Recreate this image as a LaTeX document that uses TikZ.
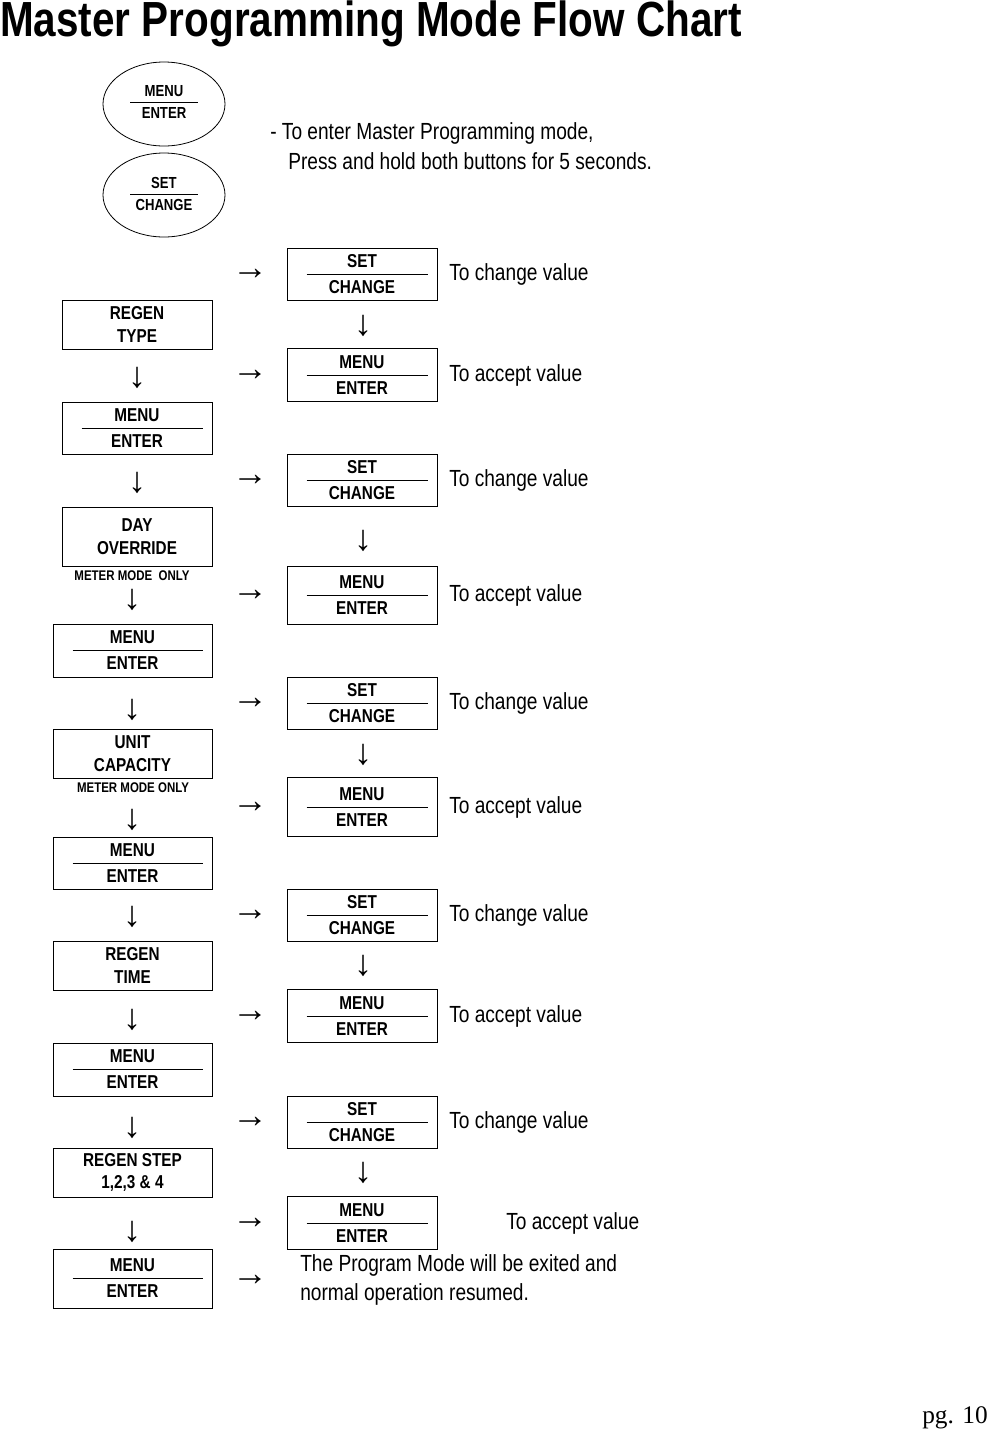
\documentclass[tikz,border=0pt]{standalone}
\usepackage{fontspec}
\setmainfont[FakeStretch=0.82]{Liberation Sans}
\newfontfamily\serifpg{Liberation Serif}
\usetikzlibrary{shapes.geometric}
\tikzset{
 box/.style={draw,line width=0.6pt,inner sep=0pt},
 lbl/.style={font=\bfseries\fontsize{14}{15}\selectfont,inner sep=0pt},
 info/.style={font=\fontsize{17.5}{20}\selectfont,anchor=west,inner sep=0pt},
 arr/.style={font=\serifpg\fontsize{27}{27}\selectfont,inner sep=0pt},
 small/.style={font=\bfseries\fontsize{10.5}{11}\selectfont,inner sep=0pt},
 ell/.style={draw,ellipse,line width=0.6pt,minimum width=91.5pt,minimum height=63pt,inner sep=0pt}
}
% name, cx, cy, w, h, top, bottom
\newcommand\mybox[7]{%
 \node[box,minimum width=#4*0.75pt,minimum height=#5*0.75pt] (#1) at (#2,#3) {};
 \draw[line width=0.5pt] ([xshift=15pt]#1.west) -- ([xshift=-7pt]#1.east);
 \node[lbl] at (#2,#3-13) {#6};
 \node[lbl] at (#2,#3+13) {#7};}
\newcommand\txbox[6]{%
 \node[box,lbl,align=center,minimum width=#4*0.75pt,minimum height=#5*0.75pt] (#1) at (#2,#3) {#6};}
\begin{document}
\begin{tikzpicture}[x=0.75pt,y=-0.75pt]
\useasboundingbox (0,0) rectangle (988,1431);
\node[anchor=north west,inner sep=0pt,font=\bfseries\fontsize{37}{38}\selectfont] (title) at (0,0) {Master Programming Mode Flow Chart};
% ellipses
\node[ell] (e1) at (164,104) {};
\draw[line width=0.5pt] (130,102) -- (198,102);
\node[lbl,font=\bfseries\fontsize{12}{12}\selectfont] at (164,91) {MENU};
\node[lbl,font=\bfseries\fontsize{12}{12}\selectfont] at (164,113) {ENTER};
\node[ell] (e2) at (164,195) {};
\draw[line width=0.5pt] (130,194) -- (198,194);
\node[lbl,font=\bfseries\fontsize{12}{12}\selectfont] at (164,183) {SET};
\node[lbl,font=\bfseries\fontsize{12}{12}\selectfont] at (164,205) {CHANGE};
\node[info] (i1) at (270,133) {- To enter Master Programming mode,};
\node[info] (i2) at (288,161) {Press and hold both buttons for 5 seconds.};
% right column
\mybox{r1}{362}{274}{150}{52}{SET}{CHANGE}
\mybox{r2}{362}{375}{150}{53}{MENU}{ENTER}
\mybox{r3}{362}{480}{150}{52}{SET}{CHANGE}
\mybox{r4}{362}{595}{150}{58}{MENU}{ENTER}
\mybox{r5}{362}{703}{150}{52}{SET}{CHANGE}
\mybox{r6}{362}{807}{150}{59}{MENU}{ENTER}
\mybox{r7}{362}{915}{150}{52}{SET}{CHANGE}
\mybox{r8}{362}{1016}{150}{53}{MENU}{ENTER}
\mybox{r9}{362}{1122}{150}{52}{SET}{CHANGE}
\mybox{r10}{362}{1223}{150}{53}{MENU}{ENTER}
\foreach \y/\t in {274/To change value,375/To accept value,480/To change value,595/To accept value,703/To change value,807/To accept value,915/To change value,1016/To accept value,1122/To change value}
 \node[info] at (449,\y) {\t};
\node[info] (acc) at (506,1223) {To accept value};
\foreach \y in {274,375,480,595,703,807,915,1016,1122,1223,1280}
 \node[arr] at (250,\y) {→};
\foreach \y in {326,541,755,966,1173}
 \node[arr] at (363,\y) {↓};
% left column
\txbox{l1}{137}{324.5}{150}{49}{REGEN\\[2pt]TYPE}
\mybox{l2}{137}{428}{150}{52}{MENU}{ENTER}
\txbox{l3}{137}{536.5}{150}{59}{DAY\\[2pt]OVERRIDE}
\node[small] at (132,576) {METER MODE\ \ ONLY};
\mybox{l4}{132.5}{650.5}{159}{53}{MENU}{ENTER}
\txbox{l5}{132.5}{753.5}{159}{49}{UNIT\\[2pt]CAPACITY}
\node[small] at (133,788) {METER MODE ONLY};
\mybox{l6}{132.5}{863}{159}{52}{MENU}{ENTER}
\txbox{l7}{132.5}{965.5}{159}{49}{REGEN\\[2pt]TIME}
\mybox{l8}{132.5}{1069.5}{159}{53}{MENU}{ENTER}
\txbox{l9}{132.5}{1172.5}{159}{49}{REGEN STEP\\[2pt]1,2,3 \& 4}
\mybox{l10}{132.5}{1278.5}{159}{59}{MENU}{ENTER}
\foreach \x/\y in {137/378,137/483,132/600,132/710,132/820,132/917,132/1020,132/1128,132/1232}
 \node[arr] at (\x,\y) {↓};
\node[info] (f1) at (300,1265) {The Program Mode will be exited and};
\node[info] (f2) at (300,1294) {normal operation resumed.};
\node[anchor=east,inner sep=0pt,font=\serifpg\fontsize{19}{20}\selectfont] (pg) at (988,1418) {pg. 10};
\end{tikzpicture}
\end{document}
